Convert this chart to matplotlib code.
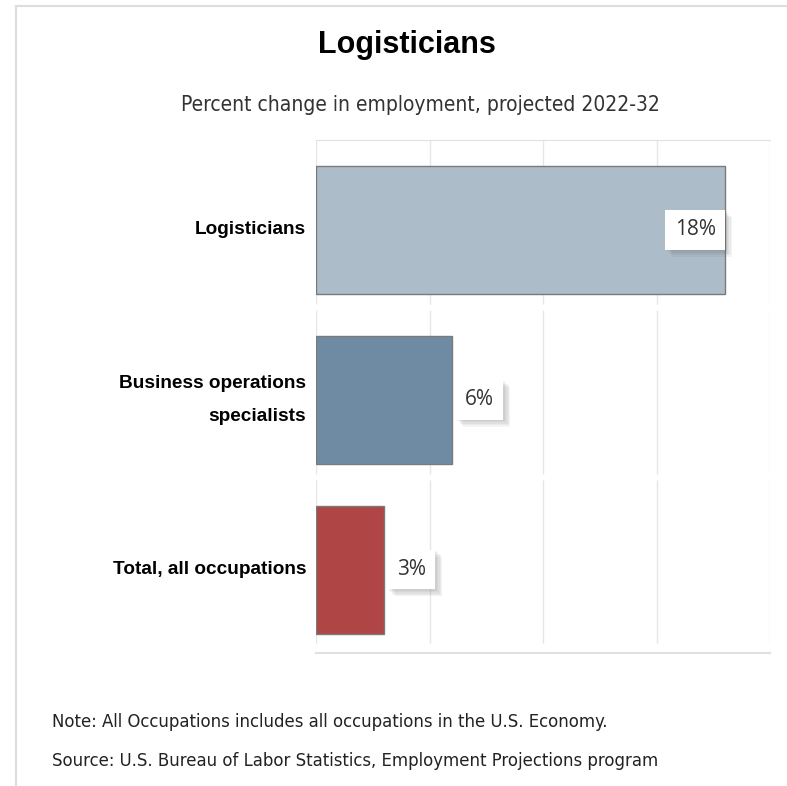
import matplotlib
matplotlib.use("Agg")
from matplotlib import pyplot as plt
from matplotlib import patheffects
from matplotlib.lines import Line2D

categories = ["Logisticians", "Business operations\nspecialists", "Total, all occupations"]
values = [18, 6, 3]
labels = ["18%", "6%", "3%"]
colors = ["#adbcc9", "#6f8ba3", "#b04545"]
xticks = [0, 5, 10, 15, 20]

title = "Logisticians"
subtitle = "Percent change in employment, projected 2022-32"
note = "Note: All Occupations includes all occupations in the U.S. Economy."
source = "Source: U.S. Bureau of Labor Statistics, Employment Projections program"

fig = plt.figure(figsize=(7.87, 7.86), dpi=100)
ax = fig.add_axes([316 / 787, 1 - 653 / 786, 454 / 787, 513 / 786])

ypos = list(range(len(categories)))
ax.barh(ypos, values, height=0.753, color=colors, edgecolor="#7a7a7a", linewidth=1, zorder=2)
ax.set_xlim(0, 20)
ax.set_ylim(2.491, -0.529)

# grid lines broken per category band
for y in ypos:
    ax.vlines(xticks, y - 0.53, y + 0.435, color="#e6e6e6", linewidth=1, zorder=1)

ax.set_xticks([])
ax.set_yticks(ypos)
ax.set_yticklabels(categories, fontsize=13.7, fontweight="bold", family="Liberation Sans",
                   linespacing=2.2)
for lbl in ax.get_yticklabels():
    lbl.set_va("center")
ax.tick_params(axis="y", length=0, pad=7)
for side in ["left", "right"]:
    ax.spines[side].set_visible(False)
ax.spines["top"].set_color("#e0e0e0")
ax.spines["bottom"].set_color("#e0e0e0")
ax.spines["bottom"].set_linewidth(1.5)

# soft shadow built from a few faint offset copies
shadow = [patheffects.SimplePatchShadow(offset=(d, -d), shadow_rgbFace="#666666", alpha=0.07)
          for d in (1, 2, 3, 4, 5)]

# value labels in white boxes
for y, v, lab in zip(ypos, values, labels):
    inside = v > 0.8 * ax.get_xlim()[1]
    if inside:
        t = ax.annotate(lab, xy=(v, y), xytext=(-6.3, 0), textcoords="offset points",
                        ha="right", va="center", fontsize=15, family="Open Sans",
                        color="#333333", zorder=4)
    else:
        t = ax.annotate(lab, xy=(v, y), xytext=(9.3, 0), textcoords="offset points",
                        ha="left", va="center", fontsize=15, family="Open Sans",
                        color="#333333", zorder=4)
    t.set_bbox(dict(boxstyle="square,pad=0.45", fc="white", ec="none"))
    t.get_bbox_patch().set_path_effects(shadow + [patheffects.Normal()])

fig.text(407 / 787, 1 - 45 / 786, title, ha="center", va="center", fontsize=22,
         fontweight="bold", family="Liberation Sans")
fig.text(420 / 787, 1 - 105 / 786, subtitle, ha="center", va="center", fontsize=15,
         family="DejaVu Sans", fontstretch="condensed", color="#333333")
fig.text(52 / 787, 1 - 722 / 786, note, ha="left", va="center", fontsize=13.2,
         family="DejaVu Sans", fontstretch="condensed", color="#222222")
fig.text(52 / 787, 1 - 761 / 786, source, ha="left", va="center", fontsize=13.2,
         family="DejaVu Sans", fontstretch="condensed", color="#222222")

# outer frame (top and left edges visible)
fig.add_artist(Line2D([16 / 787, 16 / 787], [0, 1 - 6 / 786], transform=fig.transFigure,
                      color="#dddddd", linewidth=1.5))
fig.add_artist(Line2D([16 / 787, 1], [1 - 6 / 786, 1 - 6 / 786], transform=fig.transFigure,
                      color="#dddddd", linewidth=1.5))

fig.savefig("out.png", dpi=100)
